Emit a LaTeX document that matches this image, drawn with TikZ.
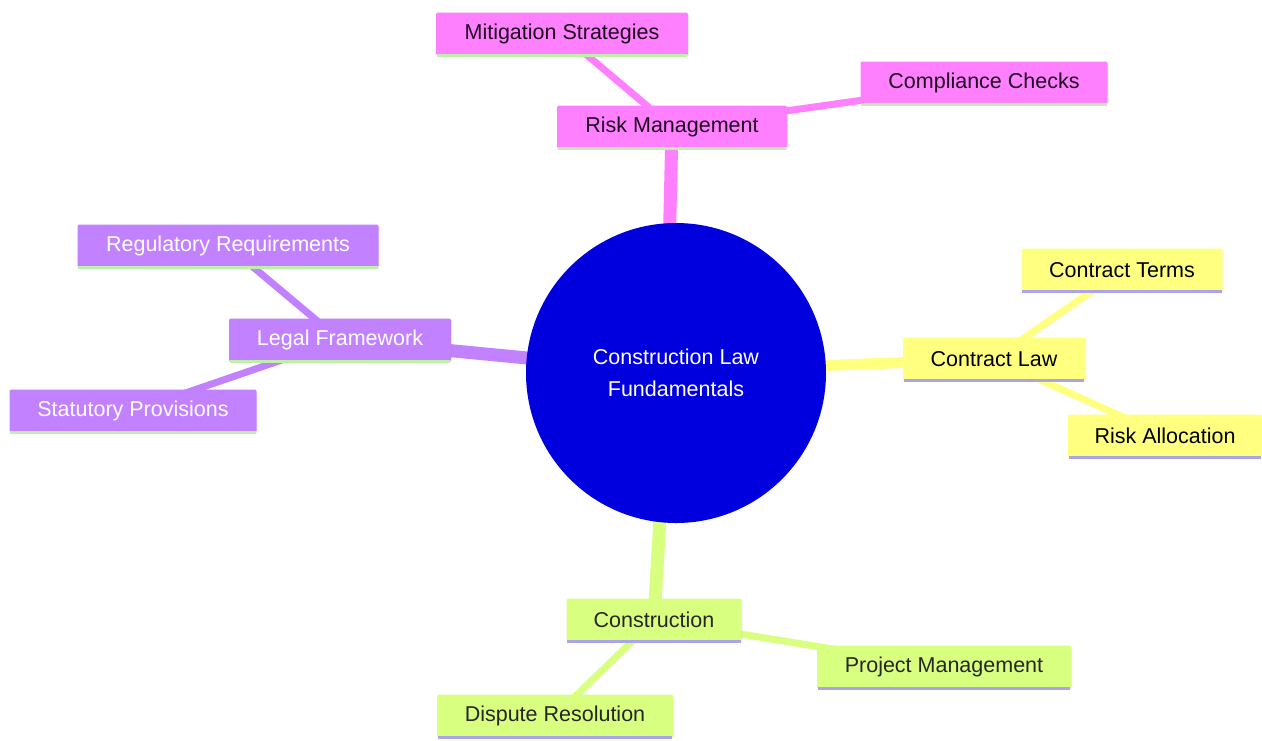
\documentclass[tikz,border=0pt]{standalone}
\usepackage{fontspec}
\setmainfont{Liberation Sans}
\usetikzlibrary{shadows}
\definecolor{pinkc}{RGB}{255,128,255}
\definecolor{purpc}{RGB}{194,130,255}
\definecolor{yelc}{RGB}{255,255,128}
\definecolor{grnc}{RGB}{216,255,128}
\definecolor{bluec}{RGB}{0,0,222}
\definecolor{lineg}{RGB}{190,240,170}
\definecolor{linel}{RGB}{170,165,235}
\definecolor{darktxt}{RGB}{30,5,30}
\tikzset{
  mm/.style={rectangle, rounded corners=2pt, minimum height=43pt, inner sep=0pt,
     font=\fontsize{21.5}{26}\selectfont, drop shadow={opacity=0.12, shadow xshift=1pt, shadow yshift=-1pt}},
  pinkbox/.style={mm, fill=pinkc, text=darktxt},
  purpbox/.style={mm, fill=purpc, text=white},
  yelbox/.style={mm, fill=yelc, text=black},
  grnbox/.style={mm, fill=grnc, text=black!85},
  trunk/.style={line width=13pt},
  branch/.style={line width=7pt},
}
\newcommand{\botline}[2]{\draw[#2, line width=3pt] ([xshift=1pt]#1.south west) -- ([xshift=-1pt]#1.south east);}
\begin{document}
\begin{tikzpicture}[x=1pt,y=-1pt]
\useasboundingbox (0,0) rectangle (1262,740);
\fill[white] (0,0) rectangle (1262,740);
% node positions (coordinates for edges)
\path
  (676,373) coordinate (cc)
  (672,127) coordinate (rm)
  (562,34) coordinate (ms)
  (984,83) coordinate (cch)
  (340,340) coordinate (lf)
  (228,246) coordinate (rr)
  (133,411) coordinate (sp)
  (994,359) coordinate (cl)
  (1122,270) coordinate (ct)
  (1165,436) coordinate (ra)
  (654,620) coordinate (co)
  (944,667) coordinate (pm)
  (555,716) coordinate (dr);
% edges
\draw[pinkc, branch] (rm) -- (ms);
\draw[pinkc, branch] (rm) -- (cch);
\draw[purpc, branch] (lf) -- (rr);
\draw[purpc, branch] (lf) -- (sp);
\draw[yelc, branch] (cl) -- (ct);
\draw[yelc, branch] (cl) -- (ra);
\draw[grnc, branch] (co) -- (pm);
\draw[grnc, branch] (co) -- (dr);
\draw[pinkc, trunk] (668,300) -- (rm);
\draw[purpc, trunk] (600,365) -- (lf);
\draw[yelc, line width=11pt] (760,368) -- (cl);
\draw[grnc, trunk] (664,450) -- (co);
% center
\node[circle, fill=bluec, minimum size=300pt, inner sep=0pt, text=white, align=center,
  font=\fontsize{21.5}{32}\selectfont] (center) at (cc) {Construction Law\\Fundamentals};
% main nodes
\node[pinkbox, minimum width=230pt] (nrm) at (rm) {Risk Management};
\node[pinkbox, minimum width=252pt] (nms) at (ms) {Mitigation Strategies};
\node[pinkbox, minimum width=247pt] (ncc) at (cch) {Compliance Checks};
\node[purpbox, minimum width=222pt] (nlf) at (lf) {Legal Framework};
\node[purpbox, minimum width=301pt] (nrr) at (rr) {Regulatory Requirements};
\node[purpbox, minimum width=247pt] (nsp) at (sp) {Statutory Provisions};
\node[yelbox, minimum width=182pt] (ncl) at (cl) {Contract Law};
\node[yelbox, minimum width=201pt] (nct) at (ct) {Contract Terms};
\node[yelbox, minimum width=194pt] (nra) at (ra) {Risk Allocation};
\node[grnbox, minimum width=175pt] (nco) at (co) {Construction};
\node[grnbox, minimum width=254pt] (npm) at (pm) {Project Management};
\node[grnbox, minimum width=236pt] (ndr) at (dr) {Dispute Resolution};
% bottom lines
\botline{nrm}{lineg}
\botline{nms}{lineg}
\botline{ncc}{lineg}
\botline{nlf}{lineg}
\botline{nrr}{lineg}
\botline{nsp}{lineg}
\botline{ncl}{linel}
\botline{nct}{linel}
\botline{nra}{linel}
\botline{nco}{linel}
\botline{npm}{linel}
\botline{ndr}{linel}
\end{tikzpicture}
\end{document}
